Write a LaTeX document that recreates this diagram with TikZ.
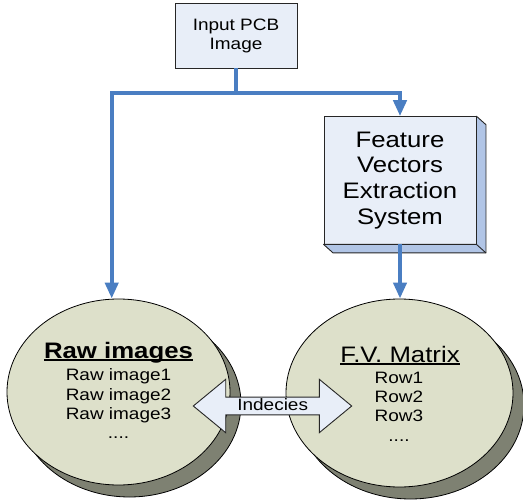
\documentclass[tikz,border=0pt]{standalone}
\usepackage{fontspec}
\setmainfont{Liberation Sans}[FakeStretch=1.15]
\usetikzlibrary{arrows.meta,shapes.geometric,shadows}

\definecolor{flowblue}{HTML}{4A7EC2}
\definecolor{boxface}{HTML}{E8EEF8}
\definecolor{boxside}{HTML}{B1C5E6}
\definecolor{ovalface}{HTML}{DDE0CA}
\definecolor{ovalshade}{HTML}{7E8172}
\definecolor{edgegray}{HTML}{262626}

% underline drawn just below the baseline, crossing descenders
\newcommand\ulword[1]{\setbox0\hbox{#1}\rlap{\rule[-2.6pt]{\wd0}{1.4pt}}\box0}

\begin{document}
\begin{tikzpicture}[x=1pt,y=-1pt,
  box/.style={draw=edgegray, line width=0.9pt, fill=boxface, inner sep=0pt, align=center},
  oval/.style={ellipse, draw=black, line width=0.8pt, fill=ovalface, inner sep=0pt,
    general shadow={shadow xshift=11pt, shadow yshift=-12pt, fill=ovalshade,
      draw=black, line width=0.8pt}},
  flow/.style={draw=flowblue, line width=4pt, -{Triangle[width=13pt,length=16pt]}},
  ovalline/.style={anchor=base, inner sep=0pt, font=\fontsize{16.5}{19}\selectfont},
  ovalhead/.style={anchor=base, inner sep=0pt, font=\fontsize{22.4}{25.7}\selectfont}
]
\useasboundingbox (0,0) rectangle (523,503);

% source image box
\node[box, minimum width=122pt, minimum height=65pt,
  font=\fontsize{16.5}{19}\selectfont] (inbox) at (236,35.5) {Input PCB\\Image};

% feature extraction block with its extruded side
\node[box, minimum width=152pt, minimum height=127.3pt,
  font=\fontsize{22.4}{25.7}\selectfont] (fvx) at (400,180.3)
  {Feature\\Vectors\\Extraction\\System};
\filldraw[fill=boxside, draw=edgegray, line width=0.9pt, line join=round]
  (fvx.north east) -- ++(9.5,8.5) -- ([shift={(9.5,8.5)}]fvx.south east)
  -- ([shift={(9.5,8.5)}]fvx.south west) -- (fvx.south west)
  -- (fvx.south east) -- cycle;
\draw[edgegray, line width=0.9pt] (fvx.south east) -- ++(9.5,8.5);

% storage ovals
\node[oval, minimum width=223pt, minimum height=186pt] (raw) at (118.5,392) {};
\node[oval, minimum width=227pt, minimum height=188pt] (fvm) at (399.5,393) {};

% contents of the left oval
\node[ovalhead, font=\bfseries\fontsize{22.4}{25.7}\selectfont] (rawhead) at (118.5,358) {\ulword{Raw images}};
\node[ovalline] (raw1) at (118.5,380) {Raw image1};
\node[ovalline] (raw2) at (118.5,400) {Raw image2};
\node[ovalline] (raw3) at (118.5,419.3) {Raw image3};
\node[ovalline] (rawdots) at (118.5,438) {....};

% contents of the right oval
\node[ovalhead] (fvmhead) at (400,362) {\ulword{F.V. Matrix}};
\node[ovalline] (row1) at (399,383) {Row1};
\node[ovalline] (row2) at (399,402.7) {Row2};
\node[ovalline] (row3) at (399,421.7) {Row3};
\node[ovalline] (rowdots) at (399,441.7) {....};

% two-headed block arrow linking the ovals
\begin{scope}[shift={(272.5,406)}]
  \filldraw[fill=boxface, draw=edgegray, line width=0.9pt]
    (-79.2,0) -- (-46.8,-26.7) -- (-46.8,-8.85) -- (46.8,-8.85) -- (46.8,-26.7)
    -- (79.2,0) -- (46.8,26.7) -- (46.8,8.85) -- (-46.8,8.85) -- (-46.8,26.7) -- cycle;
  \node[ovalline] (idx) at (0.2,4.7) {Indecies};
\end{scope}

% data flow connectors
\coordinate (split) at ([yshift=-25pt]inbox.south);
\draw[flow] (inbox.south) -- (split) -| ([xshift=-6.8pt]raw.north);
\draw[flow] (split) -| (fvx.north);
\draw[flow] (fvx.south) -- (fvx.south |- fvm.north);
\end{tikzpicture}
\end{document}
